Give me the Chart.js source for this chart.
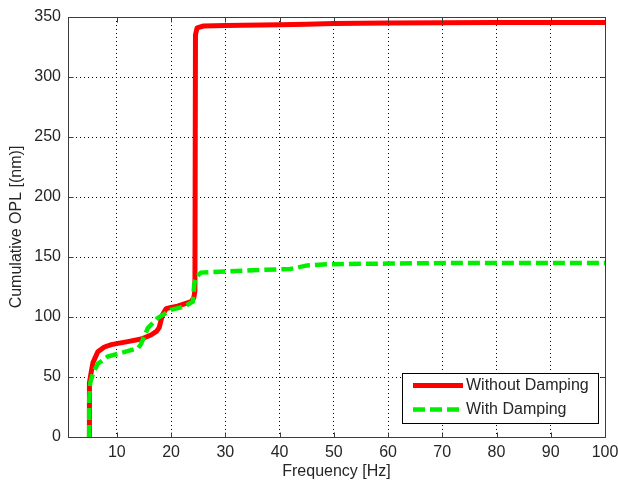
<!DOCTYPE html>
<html><head><meta charset="utf-8">
<script src="https://cdn.jsdelivr.net/npm/chart.js@4/dist/chart.umd.min.js"></script>
<style>html,body{margin:0;padding:0;background:#fff;}canvas{display:block;}</style>
</head><body>
<canvas id="c" width="618" height="481"></canvas>
<script>
// ---- data ----
const seriesNames = ['Without Damping', 'With Damping'];
const freqWithout = [4.9, 4.9, 5.0, 5.2, 5.6, 6.5, 7.7, 9.0, 10.2, 12.0, 14.5, 16.3, 17.3, 17.8, 18.4, 19.1, 20.0, 21.2, 23.7, 24.2, 24.4, 24.5, 24.8, 26.0, 30.0, 40.0, 45.0, 50.0, 60.0, 80.0, 100.0];
const oplWithout  = [0, 30, 45, 52, 62, 71, 75, 77, 78, 79.5, 81.7, 85, 88, 91, 101.7, 107, 108, 109, 112.8, 116, 122, 335, 341, 342.5, 343, 343.5, 344, 344.5, 345, 345.5, 345.5];
const freqWith = [4.9, 4.9, 5.1, 5.6, 6.5, 8.3, 10.8, 13.9, 14.4, 14.8, 15.7, 17.5, 20.0, 22.4, 24.0, 24.3, 24.6, 25.5, 30.4, 35.0, 42.0, 45.1, 48.8, 60.0, 70.9, 100.0];
const oplWith  = [0, 30, 45, 53, 61, 67, 70, 74, 77, 81, 90.6, 99, 106, 108.6, 112.8, 128, 133, 137, 138, 139, 140, 143, 144, 144.5, 145, 145];
const xTicks = [10, 20, 30, 40, 50, 60, 70, 80, 90, 100];
const yTicks = [0, 50, 100, 150, 200, 250, 300, 350];
const xRange = [1, 100];
const yRange = [0, 350];
const xTitle = 'Frequency [Hz]';
const yTitle = 'Cumulative OPL [(nm)]';

const FONT = "'Liberation Sans', Arial, Helvetica, sans-serif";
const TXT = '#262626';
Chart.defaults.font.family = FONT;
Chart.defaults.color = TXT;

const toPts = (xs, ys) => xs.map((v, i) => ({x: v, y: ys[i]}));

const framePlugin = {
  id: 'frameAndLegend',
  afterDraw(chart) {
    const {ctx, chartArea: a, scales: {x, y}} = chart;
    ctx.save();
    ctx.setLineDash([]);
    ctx.strokeStyle = '#3c3c3c';
    ctx.lineWidth = 1;
    const L = Math.round(a.left) + 0.5, R = Math.round(a.right) + 0.5;
    const T = Math.round(a.top) + 0.5, B = Math.round(a.bottom) + 0.5;
    ctx.strokeRect(L, T, R - L, B - T);
    const tl = 5;
    ctx.beginPath();
    x.ticks.forEach(t => {
      const px = Math.round(x.getPixelForValue(t.value)) + 0.5;
      ctx.moveTo(px, B); ctx.lineTo(px, B - tl);
      ctx.moveTo(px, T); ctx.lineTo(px, T + tl);
    });
    y.ticks.forEach(t => {
      const py = Math.round(y.getPixelForValue(t.value)) + 0.5;
      ctx.moveTo(L, py); ctx.lineTo(L + tl, py);
      ctx.moveTo(R, py); ctx.lineTo(R - tl, py);
    });
    ctx.stroke();

    ctx.font = '16px ' + FONT;
    const tw = Math.max(...chart.data.datasets.map(d => ctx.measureText(d.label).width));
    const bw = Math.round(64 + tw + 9), bh = 50;
    const bx = Math.round(a.right - 7 - bw), by = Math.round(a.bottom - 14 - bh);
    ctx.fillStyle = '#fff';
    ctx.fillRect(bx, by, bw, bh);
    ctx.strokeStyle = '#000';
    ctx.lineWidth = 1;
    ctx.strokeRect(bx + 0.5, by + 0.5, bw, bh);
    chart.data.datasets.forEach((d, i) => {
      const ly = by + 12.5 + i * 24;
      ctx.strokeStyle = d.borderColor;
      ctx.lineWidth = d.borderWidth;
      ctx.setLineDash(d.borderDash || []);
      ctx.lineCap = 'butt';
      ctx.beginPath();
      ctx.moveTo(bx + 11, ly); ctx.lineTo(bx + 61, ly);
      ctx.stroke();
      ctx.setLineDash([]);
      ctx.fillStyle = TXT;
      ctx.textBaseline = 'middle';
      ctx.textAlign = 'left';
      ctx.fillText(d.label, bx + 64, ly);
    });
    ctx.restore();
  }
};

new Chart(document.getElementById('c'), {
  type: 'line',
  data: {
    datasets: [
      {label: seriesNames[0], data: toPts(freqWithout, oplWithout), borderColor: '#ff0000', borderWidth: 5,
       pointRadius: 0, tension: 0, borderJoinStyle: 'round', order: 1, fill: false},
      {label: seriesNames[1], data: toPts(freqWith, oplWith), borderColor: '#00ee00', borderWidth: 4.5,
       borderDash: [12, 5], pointRadius: 0, tension: 0, order: 0, fill: false}
    ]
  },
  options: {
    responsive: false,
    animation: false,
    devicePixelRatio: 1,
    layout: {padding: {left: 0, right: 13, top: 17, bottom: 0}},
    plugins: {legend: {display: false}, tooltip: {enabled: false}},
    scales: {
      x: {
        type: 'linear', min: xRange[0], max: xRange[1],
        afterBuildTicks: s => { s.ticks = xTicks.map(v => ({value: v})); },
        afterFit: s => { s.height = 44; s.paddingLeft = 0; s.paddingRight = 0; },
        ticks: {font: {size: 16}, color: TXT, padding: 6, maxRotation: 0, autoSkip: false, callback: v => String(v)},
        grid: {color: '#000', lineWidth: 1, drawTicks: false},
        border: {display: false, dash: [1, 3]},
        title: {display: true, text: xTitle, font: {size: 16, lineHeight: 1}, color: TXT, padding: {top: 0, bottom: 1}}
      },
      y: {
        type: 'linear', min: yRange[0], max: yRange[1],
        afterBuildTicks: s => { s.ticks = yTicks.map(v => ({value: v})); },
        afterFit: s => { s.width = 68; s.paddingTop = 0; s.paddingBottom = 0; },
        ticks: {font: {size: 16}, color: TXT, padding: 7, autoSkip: false, callback: v => String(v)},
        grid: {color: '#000', lineWidth: 1, drawTicks: false},
        border: {display: false, dash: [1, 3]},
        title: {display: true, text: yTitle, font: {size: 16, lineHeight: 1}, color: TXT, padding: {top: 8.5, bottom: 0}}
      }
    }
  },
  plugins: [framePlugin]
});
</script>
</body></html>
